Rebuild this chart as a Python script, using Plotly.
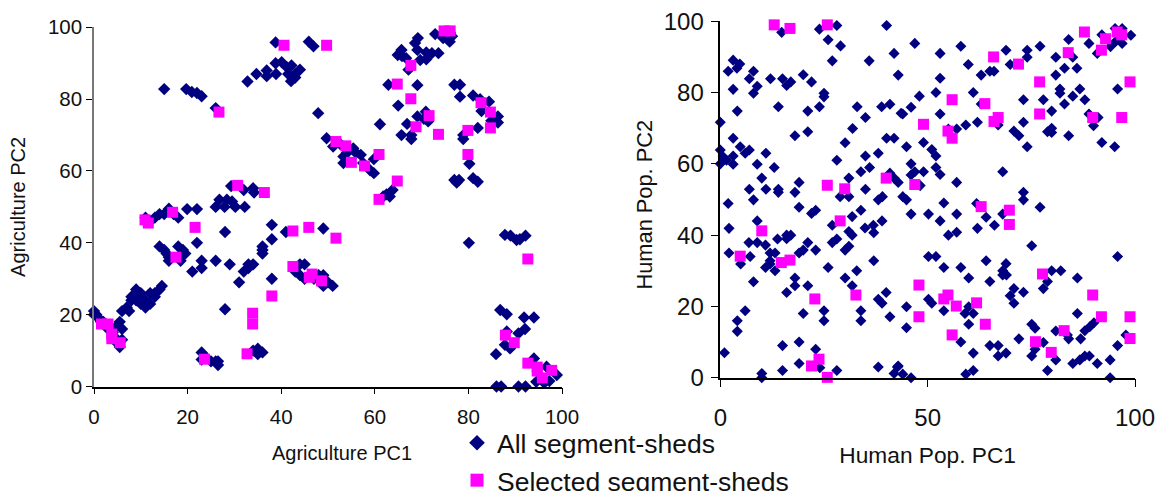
import plotly.graph_objects as go

agri_all = [
(0,21),(0.5,20),(0,20),(1,19),(1.5,18),(2,18),(3,17),(3,16),(4,15),(4,14),(5,13),(5,12),(5.5,11),(6,13),(5.5,18),(6,16),(5,17),
(6,21),(7,22),(7.5,21),(8,24),(8,25),(9,27),(9,24),(10,26),(10,25),(10,23),(11,24),(11,22),(12,26),(12,23),(13,26),(13,25),(14,27),(14.5,28),
(11,47),(12,46),(13,47),(14,48),(15,48),(16,49.5),(17,48),(18,47),(19.9,49.4),(22,49.4),
(14,39),(15,38),(15.5,37),(16,36),(16,35),(18,39),(18,36),(19,38),(19.5,37),(18.5,35),
(22,40),(21,32),(23,33),(23,35),(26,35),(29,34),(28,43),(31,29),(28,21.5),(32,32),(33,34),(33,33),(34,34),
(23,9.5),(23,7.5),(24,8),(25,7),(26,7),(26.5,6),(26.5,7),(34,10),(35,10.5),(35,9),(36,9.5),
(36,37),(36,38),(36,39),(38,41),(38,45),(38,30),(41,43),(49,44),
(43,32),(44,34),(45,34),(44,31),(45,30),(47,30),(48,31),(49,31),(50,29),(49,28),(51,28),
(26.8,52),(28.4,52),(29.5,51.5),(26,50),(27.9,50),(30.2,50),(32.2,50),(29.3,55.8),(32,54.7),(34,55.2),(34.2,54),
(15,82.8),(19.7,82.8),(20.9,82),(22,81.7),(23,80.8),(26,77.5),
(32.8,84.9),(34.7,87),(36.9,88),(36.9,86.4),(38.9,87),(38.8,90),(40.1,90.3),(41.2,88.9),(42.2,89.4),(42.1,85),(43,87),(44,88.2),(41.5,87),(43,86),
(38.8,95.8),(45.9,96),(46.9,94.7),(47.9,76.1),
(49.7,69.1),(51.1,66.8),(52.6,67.5),(55.4,66.3),(57,64.5),(53.3,64),(53.3,62.2),(57.5,62.2),(59.8,59.4),(59,60.2),(59.8,63.3),(54,65),(56,65),
(63.8,54.7),(63.2,52.9),(61.8,52.9),(62.5,53.5),
(61.1,73),(62.9,84),(65,78.2),(69.1,83.9),(67.2,88.2),
(69.2,97),(68.6,95.6),(69.1,93.7),(65.7,93.7),(64.9,92.3),(66.7,91.4),(69.7,90.9),(71,91.1),(72.2,92.8),(73.6,92.8),(65.8,92),(71,93),
(72.9,98.1),(76.1,98.4),(74.6,97),(76,96),(76.5,97.5),(75,98),
(69.1,75.2),(70.9,76.5),(71.4,73.8),(66.9,73.1),(65.7,70),(67.8,70),(67.8,68.9),(70.5,74.5),
(77,84),(78.2,84),(78.2,80.7),(81,81),(84.4,79.3),(82.8,76.7),(86.3,75.2),(86.3,73.5),(84.9,74),(82,72),(78.9,70),(78.9,68.9),(82.5,80),
(80.2,62),(77,57.5),(78,57.5),(77.5,56.8),(81,58),(82,57),
(80.1,40),(87.8,42.2),(89,42),(90.3,40.8),(91,41),(92.2,42),
(86.8,21.3),(88.2,20.1),(91.9,19.2),(94,19.2),(92.1,16),(90.7,14.8),(88.2,15.3),(87.8,11.6),(88.9,10.6),(85.9,9),
(94,7.8),(96.7,5.5),(98.9,3.2),(94.5,1.3),(96.2,1),(97.3,1.5),(86,0),(87,0),(90.7,0),(92.2,0),
]
agri_sel = [
(26.7,76.4),(40.6,95),(49.7,95),(30.7,56),(36.4,54),
(67.7,89.4),(64.8,84.2),(67.7,80.1),(71.6,75.4),(68.8,72.3),(73.6,70.2),(74.8,99),(76.1,99),
(82.7,79),(84.7,76.4),(84.7,72),(79.9,71.3),(79.9,64.6),
(51.7,68.2),(53.8,67),(55,62.4),(57.8,61.4),(60.9,64.6),(64.8,57.2),(60.9,52.1),
(10.9,46.4),(11.6,45.5),(16.8,48.5),(21.6,44.3),(17.5,36),(42.5,43.3),(45.9,44.3),(42.5,33.4),(46.6,31.3),(46,30.4),(48.6,29.4),
(33.9,20.4),(33.9,17.4),(38,25.2),(32.7,9.1),(23.6,7.6),(1.6,17.4),(3,17.4),(3.8,14.6),(3.8,13.3),(5.6,12.2),
(51.7,41.3),(92.7,35.5),(87.9,14.3),(89.8,12.2),(92.7,6.5),(94.7,5.4),(94.7,4.3),(97.8,4.5),(95.8,2.4),
]
human_all = [
(14.8,96.9),(23.9,97.8),(28.1,98.8),(40.1,98.8),(26,94.8),(29,93.1),(27,88.9),(35.9,88.9),(41.9,91),
(3.1,89.1),(4.7,88),(4,86.8),(1.9,86),(8,86),(7,83.9),(12.1,83.9),(15,83.9),(17,83),(16,82),(20,85),(22,83),(8.9,81.8),(8,79.8),(3.1,80.9),
(25,79.8),(25,78.8),(14,76),(21.1,74.8),(23.9,76),(4.1,74.8),(0,71.7),(33,76),(35,73),(38.9,76),(40.9,76.7),(43.6,74.2),
(31.9,69.9),(21.1,69),(18,67.9),(3.1,67.2),(40.1,67.2),(41.9,67.2),(30.1,65.9),(4.8,64.8),(6,63),(7,63.9),(0,63.9),(11,63),(3.1,62.2),
(0.7,62),(1.5,61),(0,60),(3.1,59.9),(8.9,59.9),(13,59),(28.1,61),(35,62.2),(38.1,63),(33.9,57.8),(36,59),(31,56),(10,56),(19,54.8),
(7,52.9),(11,52.9),(14,52.9),(14,52),(18,52),(35,52.9),(28.9,50.8),(31,50.8),(38.1,49.9),(39.1,50.8),(1.9,48.9),(8,49.9),
(19,47.8),(22,46.1),(23,47),(33.9,47),(31.8,45.2),(8.9,44),(27,42.8),(39,44),(36.9,42.8),(34.9,42),(37,40.7),(2.1,41.9),
(31,41),(31.8,40),(6.9,37.9),(8.9,37.9),(10.9,37.2),(13.8,38.9),(16,40),(17,40),(16,39),(21.1,37.9),(28.1,38.9),(27,37.9),
(20,35.8),(19,35),(23,35.8),(31,36.9),(30.1,35.8),(2.1,35),(13.2,35),(12,35),(7.2,34),(4.9,31.9),(12,32.8),(12,31.9),(10.9,30.9),(13.2,30),
(26,30.9),(37,32.8),(32.9,30),(30.1,28),(18,28),(8,26.9),(18,25.8),(21.1,25.8),(31.8,25.8),(16,23.9),(40,23.9),(38.1,22),(39,20.9),
(6,18.8),(25,18.8),(33.9,18.8),(20,18),(4.1,16),(25,16),(33.9,16),(40.9,17.1),(4.1,13),(15,9),(19,10),(23,8),(1,7),(19,4),(24,2.8),(15,2),(28.1,2),
(10,1.2),(10,0),(38.1,3),(42.7,3),(41.9,1.2),
(46.9,93.8),(53,91),(58,93),(68.9,91.9),(74,91.9),(74,89.9),(77.1,93),(84,94.9),(80.9,89.9),(85,89.9),(88.9,93.8),(90.9,91),(92,96.2),(94.1,92.9),
(95.2,98),(96.9,98),(95.3,94.3),(96.9,93.8),(99,96.1),(59.8,87.9),(69.9,87.9),(62.9,84.9),(65,86),(66,86),(42.9,84.9),(53,84),(80.9,84.9),(83,86.8),(86,86.8),
(81.9,81),(81.9,79.8),(86.7,81),(85,79),(87.9,78),(83,76.8),(95.8,81),(77.9,78),(73.1,78),(61,80),(52,80),(48,79),(46,75.9),(44,74),(53,74),(62.9,76.8),
(79.9,74.8),(88.9,74),(91.1,73),(90,70.7),(73.1,71.7),(67,70.9),(62,71.7),(59.2,70.9),(57,69.8),(55,69.8),(70.8,69.2),(72,67.9),(79.9,70),(78.9,69),(79.9,68.8),
(84,67.9),(92,66),(95.1,64.8),(74,64.8),(44.9,64.8),(49,66),(51,64),(52,62.2),(46,60),(52,59),(40.9,57.4),(42.9,54.8),(41.9,56),(46.9,57.8),(46,56.9),(49,57.8),
(53,57),(57,54.8),(68.1,57.8),(48.2,53.9),(44,50.8),(44.9,49.9),(53.9,49),(61.8,48.9),(73.1,52),(73.1,49.9),(77.1,47.8),
(46,45.9),(50.2,45.9),(53,44),(57,45.9),(55,40),(57,40.8),(64.1,45),(68.1,45.9),(66.1,42.8),(62,41.9),(75.1,37),(95.8,34),(50.2,34),(52,34),(53.9,30.9),(58,30.9),
(64.1,32.8),(68.9,32),(68.1,30),(68.1,28.8),(69,28.8),(59.9,28),(65,27),(79.9,30),(82.1,30),(86.1,28),(78.9,27),(77.9,25),(70.8,25),(73.1,24),(69.9,23),(70.8,20.9),
(44.9,19.9),(50.2,22),(51,20.9),(53.9,18.8),(59.9,19.9),(59,18),(61,18),(44.9,14),(59.9,15),(58,10),(86.1,18),(75.1,15),(75.9,13.9),(80.9,13.1),(72,10.9),(77.9,9.9),
(83.7,12),(84,10.9),(86.9,10.9),(87.9,13.2),(89.1,14.3),(90.1,15.4),(97.8,12),(95.8,9),(65,9),(67,9),(61,6.9),(67,6.1),(68.9,6.9),(75.9,8),(75.1,6.1),(80.9,5),(85,4),
(86.7,5),(87.9,6.1),(89,6.1),(90.9,4),(94,5),(94,0),(78.9,2),(59.2,1),(61,2),(42.9,3.3),(44,1),(46,0),
]
human_sel = [
(13,99),(16.8,98),(25.8,99),(25.8,54),(30,53),(40,56),(28.9,44),(4.8,34.1),(10,41.2),(14.7,32.3),(16.8,33),(22.8,22.1),(32.7,23.2),(23.8,5.2),(22,3.3),(25.8,0.1),
(62.9,48),(69.7,47),(69.7,43),(47.9,26),(47.9,17.1),(54.9,23.2),(53.9,22.1),(56.9,20.1),(61.8,21),(63.9,15),(55.9,12),(77.7,29.1),(89.8,23.2),(91.9,17.1),(98.8,17.1),(98.8,11),
(82.9,13.2),(76,10.1),(79.8,7.1),(87.8,97),(92.9,95.1),(91.9,91.9),(95.7,97),(96.8,96.2),(83.9,91.2),(65.9,90),(71.9,88),(77,83),(98.8,83),(55.9,78),(63.8,76.9),(77,74),
(49,71.1),(89.8,73),(96.8,73),(67,73),(66,71.9),(54.9,69.2),(55.9,67.2),(46.9,54.2),
]
left_ticks = [0, 20, 40, 60, 80, 100]
right_x_ticks = [0, 50, 100]
right_y_ticks = [0, 20, 40, 60, 80, 100]
series_names = ["All segment-sheds", "Selected segment-sheds"]

NAVY = "#000080"
MAGENTA = "#FF00FF"
FONT = "Liberation Sans, Arial, sans-serif"
W, H = 1159, 491


def xs(p):
    return [a for a, _ in p]


def ys(p):
    return [b for _, b in p]


def scatter(points, sym, size, color, xa, ya):
    return go.Scatter(x=xs(points), y=ys(points), mode="markers", xaxis=xa, yaxis=ya, showlegend=False,
                      cliponaxis=False, marker=dict(symbol=sym, size=size, color=color, line=dict(width=0)))


fig = go.Figure()
fig.add_trace(scatter(agri_all, "diamond", 9.5, NAVY, "x", "y"))
fig.add_trace(scatter(agri_sel, "square", 11, MAGENTA, "x", "y"))
fig.add_trace(scatter(human_all, "diamond", 8.5, NAVY, "x2", "y2"))
fig.add_trace(scatter(human_sel, "square", 11, MAGENTA, "x2", "y2"))
fig.add_trace(go.Scatter(x=[None], y=[None], mode="markers", name=series_names[0], legendgroup="a",
                         marker=dict(symbol="diamond", size=12, color=NAVY)))
fig.add_trace(go.Scatter(x=[None], y=[None], mode="markers", name=series_names[1], legendgroup="b",
                         marker=dict(symbol="square", size=13, color=MAGENTA)))


def axis(domain, anchor, ticks, title, color, standoff, labelstandoff, title_size, tick_size, ticklen):
    return dict(domain=domain, anchor=anchor, range=[0, 100], tickmode="array", tickvals=ticks,
                ticktext=[str(t) for t in ticks], ticks="outside", ticklen=ticklen, tickcolor="#000", tickwidth=1,
                showgrid=False, zeroline=False, showline=True, linecolor=color, linewidth=1.5,
                tickfont=dict(family=FONT, size=tick_size, color="#111"), ticklabelstandoff=labelstandoff,
                automargin=False,
                title=dict(text=title, standoff=standoff, font=dict(family=FONT, size=title_size, color="#111")))


def side_label(text, x, y, size, angle):
    return dict(text=text, x=x / W, y=1 - y / H, xref="paper", yref="paper", showarrow=False, textangle=angle,
                xanchor="center", yanchor="middle", font=dict(family=FONT, size=size, color="#111"))


fig.update_layout(
    width=W, height=H, margin=dict(l=0, r=0, t=0, b=0, autoexpand=False), paper_bgcolor="white", plot_bgcolor="white",
    font=dict(family=FONT, color="#111"),
    xaxis=axis([94 / W, 562 / W], "y", left_ticks, "", "#000", 16, 5, 20, 20.5, 6),
    yaxis=axis([1 - 386.5 / H, 1 - 27.3 / H], "x", left_ticks, "Agriculture PC2", "#777", 17, 0, 20, 20.5, 6),
    xaxis2=axis([720.3 / W, 1135 / W], "y2", right_x_ticks, "Human Pop. PC1", "#000", 17, 10, 22.7, 24, 8),
    yaxis2=axis([1 - 377.7 / H, 1 - 21.3 / H], "x2", right_y_ticks, "", "#000", 14, 2, 19, 24, 8),
    annotations=[side_label("Agriculture PC1", 342, 453, 20, 0), side_label("Human Pop. PC2", 644, 204.5, 21.8, -90)],
    legend=dict(x=457 / W, y=1 - 419 / H, xanchor="left", yanchor="top", bgcolor="rgba(0,0,0,0)",
                font=dict(family=FONT, size=26.5, color="#111"), tracegroupgap=0, itemwidth=30),
)
fig.write_html("out.html", config={"displayModeBar": False}, post_script="document.body.style.margin='0';")
